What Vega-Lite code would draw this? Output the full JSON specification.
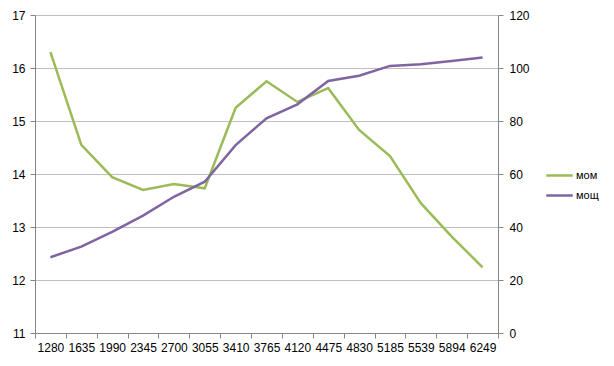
{
  "$schema": "https://vega.github.io/schema/vega-lite/v6.json",
  "autosize": "none",
  "width": 463,
  "height": 318,
  "padding": {"left": 35, "top": 15, "right": 116, "bottom": 33},
  "background": "white",
  "config": {
    "font": "Liberation Sans",
    "view": {"stroke": null},
    "axis": {"labelFont": "Liberation Sans", "labelFontSize": 12, "labelColor": "#000000", "domainColor": "#868686", "tickColor": "#868686", "gridColor": "#BEBEBE", "title": null}
  },
  "data": {"values": [
    {"x": "1280", "mom": 16.30, "mosch": 28.6},
    {"x": "1635", "mom": 14.55, "mosch": 32.6},
    {"x": "1990", "mom": 13.94, "mosch": 38.2},
    {"x": "2345", "mom": 13.70, "mosch": 44.3},
    {"x": "2700", "mom": 13.81, "mosch": 51.4},
    {"x": "3055", "mom": 13.73, "mosch": 57.1},
    {"x": "3410", "mom": 15.25, "mosch": 70.9},
    {"x": "3765", "mom": 15.75, "mosch": 81.0},
    {"x": "4120", "mom": 15.36, "mosch": 86.3},
    {"x": "4475", "mom": 15.62, "mosch": 95.1},
    {"x": "4830", "mom": 14.83, "mosch": 97.1},
    {"x": "5185", "mom": 14.34, "mosch": 100.8},
    {"x": "5539", "mom": 13.45, "mosch": 101.4},
    {"x": "5894", "mom": 12.82, "mosch": 102.6},
    {"x": "6249", "mom": 12.24, "mosch": 104.0}
  ]},
  "encoding": {
    "x": {"field": "x", "type": "ordinal", "sort": null, "bandPosition": 0.5,
      "scale": {"type": "band", "paddingInner": 0, "paddingOuter": 0},
      "axis": {"labelAngle": 0, "tickBand": "extent", "tickSize": 5, "labelPadding": 4, "grid": false}}
  },
  "layer": [
    {
      "mark": {"type": "line", "strokeWidth": 2.5, "strokeJoin": "miter"},
      "encoding": {
        "y": {"field": "mom", "type": "quantitative",
          "scale": {"domain": [11, 17], "zero": false, "nice": false},
          "axis": {"values": [11, 12, 13, 14, 15, 16, 17], "orient": "left", "tickSize": 5, "labelPadding": 5, "grid": true}},
        "color": {"datum": "мом", "type": "nominal",
          "scale": {"domain": ["мом", "мощ"], "range": ["#9BBB59", "#8064A2"]},
          "legend": {"title": null, "orient": "none", "legendX": 510, "legendY": 146, "symbolType": "stroke", "symbolSize": 700, "symbolStrokeWidth": 2.5, "labelFontSize": 11, "labelFont": "Liberation Sans", "labelColor": "#000000", "rowPadding": -4, "labelOffset": 2}}
      }
    },
    {
      "mark": {"type": "line", "strokeWidth": 2.5, "strokeJoin": "miter"},
      "encoding": {
        "y": {"field": "mosch", "type": "quantitative",
          "scale": {"domain": [0, 120], "nice": false},
          "axis": {"values": [0, 20, 40, 60, 80, 100, 120], "orient": "right", "tickSize": 5, "labelPadding": 6, "grid": false}},
        "color": {"datum": "мощ", "type": "nominal"}
      }
    }
  ],
  "resolve": {"scale": {"y": "independent"}}
}
